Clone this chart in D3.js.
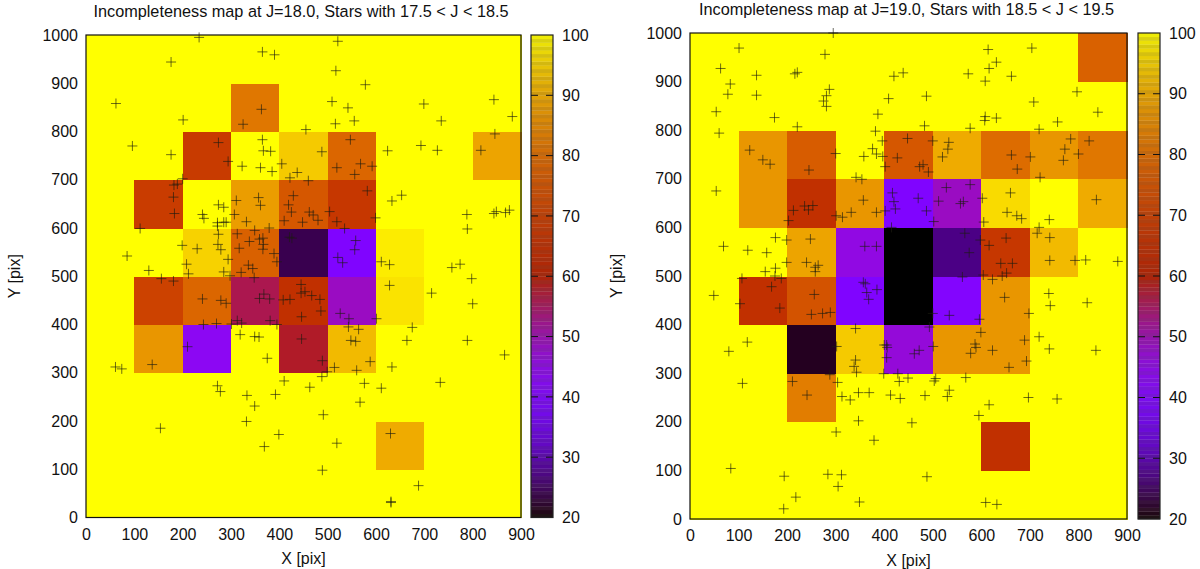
<!DOCTYPE html>
<html><head><meta charset="utf-8">
<script src="https://cdn.jsdelivr.net/npm/d3@7"></script>
<style>
html,body{margin:0;padding:0;background:#fff}
svg{display:block}
text{font-family:"Liberation Sans",Arial,sans-serif;fill:#111}
</style></head><body>
<svg id="c" width="1200" height="569"></svg>
<script>
const xTicks=[0,100,200,300,400,500,600,700,800,900];
const yTicks=[0,100,200,300,400,500,600,700,800,900,1000];
const cbTicks=[20,30,40,50,60,70,80,90,100];

// Cell values, rows from Y=0-100 upward, columns X=0-100 rightward
const leftCells=[
 [100,100,100,100,100,100,100,100,100],
 [100,100,100,100,100,100,90,100,100],
 [100,100,100,100,100,100,100,100,100],
 [100,87,44,100,58,92,100,100,100],
 [100,71,79,56,66,49,97,100,100],
 [100,100,95,78,24,40,98,100,100],
 [100,69.5,100,88,76,68,100,100,100],
 [100,100,69,100,94,79,100,100,89],
 [100,100,100,82,100,100,100,100,100],
 [100,100,100,100,100,100,100,100,100]
];
const rightCells=[
 [100,100,100,100,100,100,100,100,100],
 [100,100,100,100,100,100,66,100,100],
 [100,100,83,100,100,100,100,100,100],
 [100,100,21.6,94,47,87,87,100,100],
 [100,66,75,40,20,41,87,100,100],
 [100,100,89,46,20,27,68,92,100],
 [100,87,66,87,40,49,96,100,90],
 [100,87,77,100,76,90,80,87,82],
 [100,100,100,100,100,100,100,100,100],
 [100,100,100,100,100,100,100,100,78]
];

const leftStars=[[234,995],[365,965],[390,959],[176,944],[62,858],[363,846],[201,824],[325,815],[455,804],[365,783],[96,770],[274,777],[367,760],[382,759],[176,752],[294,738],[323,728],[361,725],[385,717],[405,733],[437,715],[422,704],[460,698],[200,702],[182,689],[189,691],[181,664],[183,630],[274,648],[285,643],[311,657],[357,663],[361,647],[429,667],[419,648],[425,633],[241,628],[244,620],[307,628],[272,611],[272,604],[285,612],[290,612],[332,613],[410,615],[448,612],[462,633],[470,627],[480,616],[379,600],[112,599],[313,588],[349,595],[274,587],[421,581],[426,579],[359,577],[366,579],[338,572],[367,566],[199,564],[273,566],[230,557],[279,555],[317,558],[366,556],[85,542],[389,547],[294,535],[395,530],[208,525],[336,523],[345,516],[130,512],[285,509],[321,508],[212,505],[298,501],[156,495],[348,497],[181,490],[241,453],[279,450],[290,444],[359,454],[368,463],[380,453],[408,451],[422,452],[445,483],[445,465],[453,468],[467,460],[446,416],[243,400],[270,402],[313,408],[322,403],[301,401],[381,408],[395,400],[319,379],[349,375],[358,374],[446,370],[210,354],[375,330],[137,317],[61,312],[74,308],[410,283],[272,273],[278,261],[463,270],[333,253],[392,255],[349,231],[332,199],[154,185],[399,172],[369,147],[521,987],[517,926],[578,897],[509,862],[542,849],[699,857],[735,822],[844,866],[882,831],[516,816],[555,822],[547,783],[846,795],[624,760],[488,758],[693,771],[727,761],[817,761],[519,725],[568,733],[592,728],[556,711],[582,677],[653,668],[633,656],[504,634],[519,613],[599,621],[535,599],[788,628],[844,630],[849,634],[868,632],[876,637],[789,598],[558,574],[556,555],[521,539],[531,528],[611,530],[628,524],[757,518],[774,525],[798,495],[628,481],[715,465],[800,443],[484,452],[486,428],[526,423],[544,412],[601,412],[543,395],[564,390],[675,394],[548,367],[558,365],[664,367],[789,367],[489,325],[588,323],[866,337],[514,311],[633,312],[499,302],[560,305],[488,292],[576,278],[611,268],[733,280],[567,239],[491,213],[519,154],[630,174],[489,98],[688,66],[631,31],[631,33]];

const rightStars=[[295,1000],[101,969],[278,956],[63,927],[137,913],[216,916],[221,919],[83,895],[78,874],[137,872],[287,884],[281,871],[275,860],[281,849],[54,838],[174,826],[221,807],[60,794],[420,911],[439,918],[409,865],[487,870],[387,833],[483,809],[382,798],[396,778],[448,783],[376,762],[384,751],[397,746],[123,759],[150,739],[165,730],[300,752],[358,746],[427,743],[473,725],[480,729],[491,714],[402,725],[245,718],[342,703],[354,699],[54,675],[417,671],[470,660],[420,653],[423,638],[357,656],[236,644],[253,645],[244,636],[213,635],[332,631],[384,631],[402,634],[487,634],[301,624],[314,621],[203,614],[415,600],[176,579],[199,574],[248,576],[69,561],[360,561],[384,561],[119,553],[158,548],[199,528],[240,528],[264,522],[258,518],[258,509],[176,516],[155,509],[175,500],[188,495],[107,495],[168,478],[49,460],[256,462],[357,487],[361,484],[364,466],[385,472],[368,452],[103,443],[185,434],[250,421],[273,423],[289,425],[341,392],[493,395],[118,364],[80,345],[302,355],[400,358],[405,358],[406,353],[405,332],[341,327],[338,314],[343,302],[462,340],[472,347],[399,299],[428,299],[288,297],[211,283],[108,279],[304,281],[431,283],[449,290],[241,255],[313,252],[330,245],[347,260],[369,260],[413,255],[433,248],[484,254],[347,202],[457,198],[301,179],[379,162],[84,104],[194,88],[284,92],[312,91],[305,67],[218,45],[193,21],[349,35],[488,87],[614,966],[704,969],[631,940],[616,927],[573,916],[662,911],[608,901],[797,879],[708,858],[840,837],[608,828],[607,820],[631,825],[577,804],[719,802],[757,817],[500,778],[533,775],[531,761],[520,745],[784,782],[772,761],[822,778],[800,751],[662,749],[701,745],[769,738],[674,720],[721,703],[577,688],[528,682],[660,671],[837,657],[602,660],[512,654],[563,653],[557,649],[653,631],[673,624],[683,618],[740,616],[605,611],[502,612],[719,600],[715,588],[566,588],[741,579],[598,574],[651,578],[616,563],[575,548],[741,532],[793,532],[815,533],[881,530],[640,526],[664,526],[604,502],[652,506],[643,500],[623,493],[561,498],[648,456],[739,464],[742,439],[818,445],[698,423],[500,423],[534,419],[596,411],[599,384],[719,375],[689,368],[587,360],[589,353],[501,355],[578,341],[623,347],[740,350],[836,347],[693,325],[657,312],[506,289],[503,284],[568,291],[534,265],[530,252],[697,250],[756,247],[616,235],[595,213],[609,34],[632,30]];

const leftTitle="Incompleteness map at J=18.0, Stars with 17.5 < J < 18.5";
const rightTitle="Incompleteness map at J=19.0, Stars with 18.5 < J < 19.5";

const cbNorm=d3.scaleLinear().domain([20,100]).range([0,1]).clamp(true);
function pm3d(v){ // gnuplot default palette rgbformulae 7,5,15
  const t=cbNorm(v);
  return d3.rgb(255*Math.sqrt(t),255*t*t*t,255*Math.max(0,Math.sin(2*Math.PI*t))).formatRgb();
}

const svg=d3.select("#c");
const FS=16;
const TITLE_FS=16.25;
const fontFam='"Liberation Sans",Arial,sans-serif';

function panel(o){
  const g=svg.append("g");
  const x=d3.scaleLinear().domain([0,900]).range([o.x0,o.x1]);
  const y=d3.scaleLinear().domain([0,1000]).range([o.y1,o.y0]);
  const cells=o.cells.flatMap((row,j)=>row.map((v,i)=>({i,j,v})));
  g.append("g").attr("shape-rendering","crispEdges").selectAll("rect").data(cells).join("rect")
    .attr("x",d=>x(d.i*100)).attr("y",d=>y((d.j+1)*100))
    .attr("width",d=>x((d.i+1)*100)-x(d.i*100)+0.5).attr("height",d=>y(d.j*100)-y((d.j+1)*100)+0.5)
    .attr("fill",d=>pm3d(d.v));
  // stars
  const S=5;
  g.append("path").attr("fill","none").attr("stroke","#1c1c10").attr("stroke-width",0.8).attr("stroke-opacity",0.8)
    .attr("d",o.stars.map(d=>`M${x(d[0])-S},${y(d[1])}h${2*S}M${x(d[0])},${y(d[1])-S}v${2*S}`).join(""));
  g.append("rect").attr("x",o.x0).attr("y",o.y0).attr("width",o.x1-o.x0).attr("height",o.y1-o.y0)
    .attr("fill","none").attr("stroke","#111").attr("stroke-width",1.2);
  // axes
  const ax=g.append("g").attr("transform",`translate(0,${o.y1})`)
    .call(d3.axisBottom(x).tickValues(xTicks).tickFormat(d3.format("d")).tickSize(0).tickPadding(11));
  ax.select(".domain").remove();
  const ay=g.append("g").attr("transform",`translate(${o.x0},0)`)
    .call(d3.axisLeft(y).tickValues(yTicks).tickFormat(d3.format("d")).tickSize(0).tickPadding(8));
  ay.select(".domain").remove();
  g.selectAll(".tick text").attr("font-size",FS).attr("font-family",fontFam).attr("fill","#111");
  g.append("text").attr("x",(o.x0+o.x1)/2).attr("y",o.xlabY).attr("text-anchor","middle").attr("font-size",FS).text("X [pix]");
  g.append("text").attr("transform",`translate(${o.ylabX},${(o.y0+o.y1)/2}) rotate(-90)`).attr("text-anchor","middle").attr("font-size",FS).text("Y [pix]");
  g.append("text").attr("x",o.titleX).attr("y",o.titleY).attr("text-anchor","middle").attr("font-size",TITLE_FS).attr("fill","#222").text(o.title);
  // colour box
  const cb=d3.scaleLinear().domain([20,100]).range([o.y1,o.y0]);
  const nBands=128, bands=d3.range(nBands).map(k=>20+80*k/nBands), bw=80/nBands;
  const gb=g.append("g");
  gb.selectAll("rect").data(bands).join("rect")
    .attr("x",o.cb0).attr("width",o.cb1-o.cb0)
    .attr("y",d=>cb(d+bw)).attr("height",d=>cb(d)-cb(d+bw)+0.3)
    .attr("fill",(d,k)=>d3.interpolateRgb(pm3d(d+bw/2),"#55504a")(k%2?0.10:0.22));
  g.append("rect").attr("x",o.cb0).attr("y",o.y0).attr("width",o.cb1-o.cb0).attr("height",o.y1-o.y0)
    .attr("fill","none").attr("stroke","#222").attr("stroke-width",1.2);
  g.append("g").selectAll("path").data(cbTicks.filter(d=>d>20&&d<100)).join("path")
    .attr("fill","none").attr("stroke","#111").attr("stroke-width",1)
    .attr("d",d=>`M${o.cb0},${cb(d)}h7M${o.cb1},${cb(d)}h-7`);
  const ac=g.append("g").attr("transform",`translate(${o.cb1},0)`)
    .call(d3.axisRight(cb).tickValues(cbTicks).tickSize(0).tickPadding(9));
  ac.select(".domain").remove();
  ac.selectAll(".tick text").attr("font-size",FS).attr("font-family",fontFam).attr("fill","#111");
}

panel({x0:86,x1:521,y0:35,y1:517.5,cb0:531,cb1:553,cells:leftCells,stars:leftStars,title:leftTitle,titleX:301,titleY:16.5,xlabY:564,ylabX:20});
panel({x0:690,x1:1127,y0:33,y1:519,cb0:1138,cb1:1160,cells:rightCells,stars:rightStars,title:rightTitle,titleX:906.5,titleY:14.5,xlabY:566,ylabX:622});
</script>
</body></html>
